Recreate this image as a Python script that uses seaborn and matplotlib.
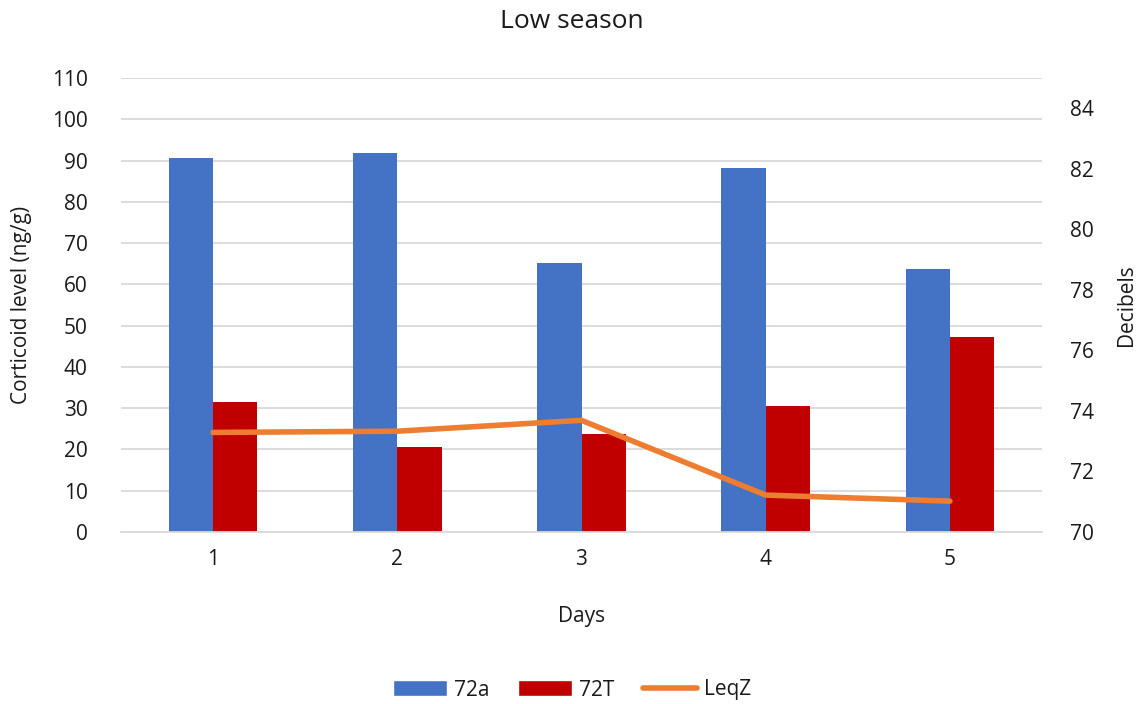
import matplotlib
matplotlib.use("Agg")
import matplotlib.pyplot as plt
import seaborn as sns
import pandas as pd
from matplotlib.lines import Line2D
from matplotlib.patches import Patch

days = ["1", "2", "3", "4", "5"]
cort_72a = [90.5, 91.8, 65.1, 88.2, 63.7]
cort_72t = [31.4, 20.6, 23.7, 30.5, 47.2]
leqz = [73.29, 73.33, 73.69, 71.22, 71.02]

blue = "#4472C4"
red = "#C00000"
orange = "#ED7D31"
text_c = "#1A1A1A"

sns.set_theme(style="white")
plt.rcParams["font.family"] = ["Open Sans", "DejaVu Sans"]

df = pd.DataFrame({
    "Days": days * 2,
    "value": cort_72a + cort_72t,
    "series": ["72a"] * 5 + ["72T"] * 5,
})

fig = plt.figure(figsize=(11.44, 7.04), dpi=100)
ax = fig.add_axes([121 / 1144, 1 - 532 / 704, (1042 - 121) / 1144, (532 - 78) / 704])

sns.barplot(data=df, x="Days", y="value", hue="series",
            palette=[blue, red], width=0.48, gap=0, ax=ax,
            legend=False, saturation=1, errorbar=None, linewidth=0)

ax.set_ylim(0, 110)
ax.set_yticks(range(0, 111, 10))
ax.set_xlim(-0.5, 4.5)
ax.grid(axis="y", color="#D9D9D9", linewidth=1.3)
ax.set_axisbelow(True)
for s in ["top", "right", "left"]:
    ax.spines[s].set_visible(False)
ax.spines["bottom"].set_color("#D9D9D9")
ax.spines["bottom"].set_linewidth(1.3)
ax.tick_params(axis="y", length=0, labelsize=15, colors=text_c, pad=24)
ax.tick_params(axis="x", length=0, labelsize=15, colors=text_c, pad=12)
ax.set_xlabel("Days", fontsize=15, color=text_c, labelpad=26)
ax.set_ylabel("Corticoid level (ng/g)", fontsize=15, color=text_c, labelpad=14)

ax2 = ax.twinx()
sns.lineplot(x=list(range(5)), y=leqz, color=orange, linewidth=4,
             ax=ax2, solid_capstyle="round", solid_joinstyle="round")
ax2.set_ylim(70, 85)
ax2.set_yticks(range(70, 85, 2))
for s in ["top", "right", "left", "bottom"]:
    ax2.spines[s].set_visible(False)
ax2.tick_params(axis="y", length=0, labelsize=15, colors=text_c, pad=20)
ax2.set_ylabel("Decibels", fontsize=15, color=text_c, labelpad=16)
ax2.grid(False)

fig.suptitle("Low season", fontsize=19, color=text_c, y=1 - 9 / 704, va="top")

handles = [
    Patch(facecolor=blue, label="72a"),
    Patch(facecolor=red, label="72T"),
    Line2D([0], [0], color=orange, linewidth=4, solid_capstyle="round", label="LeqZ"),
]
fig.legend(handles=handles, loc="center", bbox_to_anchor=(0.5, 1 - 690 / 704),
           ncol=3, frameon=False, fontsize=15, handlelength=2.6, handleheight=0.8,
           columnspacing=1.4, handletextpad=0.3, labelcolor=text_c)

fig.savefig("out.png", dpi=100, facecolor="white")
